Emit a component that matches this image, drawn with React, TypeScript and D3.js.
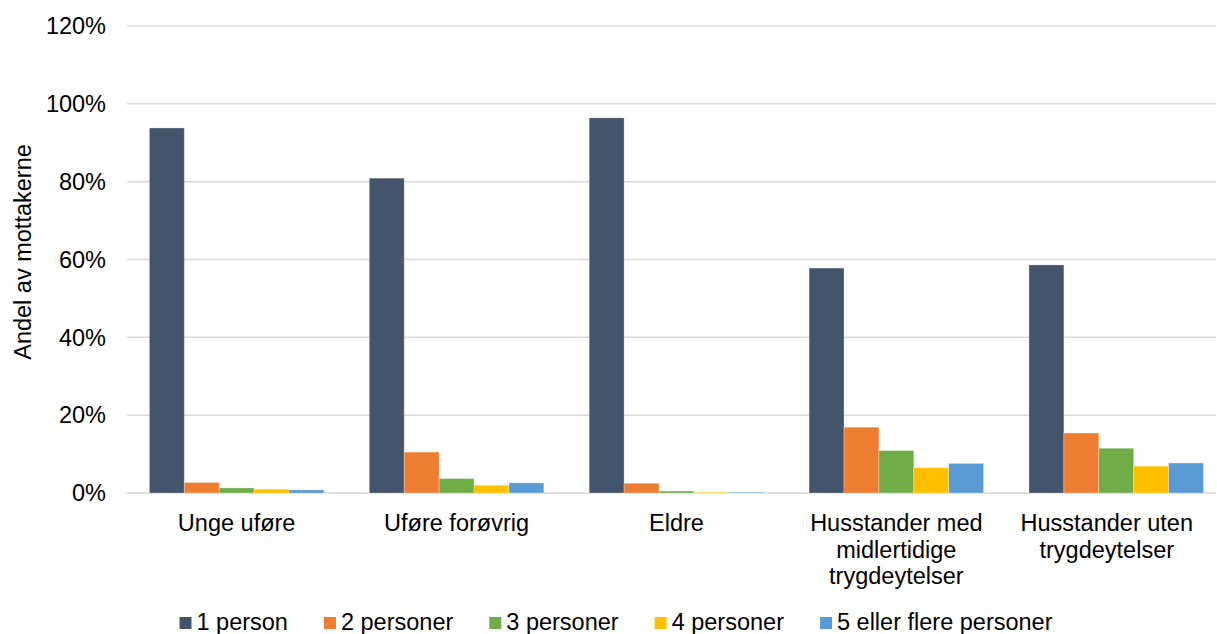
import React from "react";
import * as d3 from "d3";

const categories: string[][] = [
  ["Unge uføre"],
  ["Uføre forøvrig"],
  ["Eldre"],
  ["Husstander med", "midlertidige", "trygdeytelser"],
  ["Husstander uten", "trygdeytelser"],
];
const seriesNames = ["1 person", "2 personer", "3 personer", "4 personer", "5 eller flere personer"];
const seriesColors = ["#44546A", "#ED7D31", "#70AD47", "#FFC000", "#5B9BD5"];
const s1 = [0.938, 0.809, 0.964, 0.578, 0.586];
const s2 = [0.027, 0.105, 0.025, 0.169, 0.154];
const s3 = [0.013, 0.037, 0.005, 0.109, 0.115];
const s4 = [0.010, 0.020, 0.002, 0.065, 0.069];
const s5 = [0.008, 0.026, 0.002, 0.076, 0.077];
const seriesValues = [s1, s2, s3, s4, s5];
const yTicks = [0, 0.2, 0.4, 0.6, 0.8, 1.0, 1.2];

const FONT = "'Liberation Sans', Arial, sans-serif";
const FS = 23.5;

function measure(text: string): number {
  const c = document.createElement("canvas");
  const ctx = c.getContext("2d")!;
  ctx.font = `${FS}px ${FONT}`;
  return ctx.measureText(text).width;
}

export default function App() {
  const W = 1217, H = 634;
  const left = 126.7, right = 1226.2, top = 26, bottom = 493;
  const gridRight = 1216;
  const x = d3.scaleBand<number>().domain(d3.range(categories.length)).range([left, right]).padding(0);
  const xi = d3.scaleBand<number>().domain(d3.range(seriesNames.length)).range([0, x.bandwidth()]).paddingOuter(0.65).paddingInner(0);
  const y = d3.scaleLinear().domain([0, 1.2]).range([bottom, top]);
  const fmt = d3.format(".0%");

  // legend layout
  const sq = 12, gapSq = 5, gapItem = 36;
  const widths = seriesNames.map((n) => sq + gapSq + measure(n));
  const total = d3.sum(widths) + gapItem * (seriesNames.length - 1);
  let lx = 616 - total / 2;
  const legendX = widths.map((w) => { const v = lx; lx += w + gapItem; return v; });

  const labelX = categories.map((lines, ci) => {
    const c = x(ci)! + x.bandwidth() / 2;
    const w = d3.max(lines, (l) => measure(l))!;
    return Math.min(c, W - 24 - w / 2);
  });

  return (
    <svg width={W} height={H} style={{ position: "absolute", left: 0, top: 0, background: "#fff" }} fontFamily={FONT}>
      {yTicks.map((t) => (
        <g key={t}>
          <line x1={127} x2={gridRight} y1={y(t)} y2={y(t)} stroke="#D9D9D9" strokeWidth={1.5} />
          <text x={106} y={y(t)} dy="0.35em" textAnchor="end" fontSize={FS} fill="#000">{fmt(t)}</text>
        </g>
      ))}
      {seriesValues.map((vals, si) => (
        <g key={si} fill={seriesColors[si]}>
          {vals.map((v, ci) => (
            <rect key={ci} x={x(ci)! + xi(si)!} width={xi.bandwidth()} y={y(v)} height={y(0) - y(v)}
              stroke="#ffffff" strokeOpacity={0.35} strokeWidth={0.8} />
          ))}
        </g>
      ))}
      {categories.map((lines, ci) => (
        <text key={ci} x={labelX[ci]} y={531} textAnchor="middle" fontSize={FS} fill="#000">
          {lines.map((l, li) => (
            <tspan key={li} x={labelX[ci]} dy={li === 0 ? 0 : 26.5}>{l}</tspan>
          ))}
        </text>
      ))}
      <text transform={`translate(31,252) rotate(-90)`} textAnchor="middle" fontSize={FS} fill="#000">Andel av mottakerne</text>
      {seriesNames.map((n, si) => (
        <g key={n}>
          <rect x={legendX[si]} y={617} width={sq} height={sq} fill={seriesColors[si]} />
          <text x={legendX[si] + sq + gapSq} y={630} fontSize={FS} fill="#000">{n}</text>
        </g>
      ))}
    </svg>
  );
}
